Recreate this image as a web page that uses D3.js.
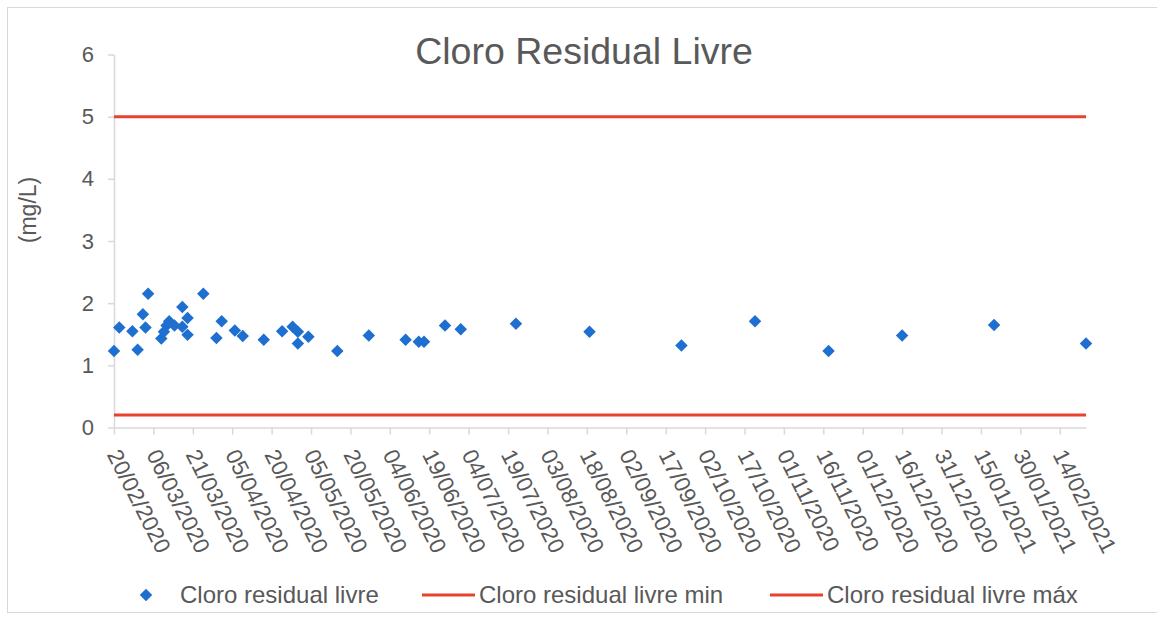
<!DOCTYPE html>
<html>
<head>
<meta charset="utf-8">
<script src="https://cdn.jsdelivr.net/npm/d3@7"></script>
<style>
  body { margin: 0; background: #fff; }
  svg { display: block; font-family: "Liberation Sans", Arial, sans-serif; }
</style>
</head>
<body>
<svg id="chart" width="1157" height="619"></svg>
<script>
// sample dates (dd/mm/yyyy) and free chlorine values
var sampleDates = [
    '20/02/2020', '22/02/2020', '27/02/2020', '29/02/2020', '02/03/2020',
    '03/03/2020', '04/03/2020', '09/03/2020', '10/03/2020', '11/03/2020',
    '12/03/2020', '14/03/2020', '17/03/2020', '17/03/2020', '19/03/2020',
    '19/03/2020', '25/03/2020', '30/03/2020', '01/04/2020', '06/04/2020',
    '09/04/2020', '17/04/2020', '24/04/2020', '28/04/2020', '30/04/2020',
    '30/04/2020', '04/05/2020', '15/05/2020', '27/05/2020', '10/06/2020',
    '15/06/2020', '17/06/2020', '25/06/2020', '01/07/2020', '22/07/2020',
    '19/08/2020', '23/09/2020', '21/10/2020', '18/11/2020', '16/12/2020',
    '20/01/2021', '24/02/2021'
];
var cloroValues = [
    1.23, 1.61, 1.55, 1.25, 1.82,
    1.61, 2.15, 1.43, 1.54, 1.64,
    1.71, 1.64, 1.62, 1.94, 1.76,
    1.49, 2.15, 1.44, 1.71, 1.56,
    1.47, 1.41, 1.55, 1.62, 1.54,
    1.35, 1.46, 1.23, 1.48, 1.41,
    1.38, 1.38, 1.64, 1.58, 1.67,
    1.54, 1.32, 1.71, 1.23, 1.48,
    1.65, 1.35
];
var limitMin = 0.2,
    limitMax = 5;
var yTicks = [0, 1, 2, 3, 4, 5, 6];
var xTickLabels = [
    '20/02/2020', '06/03/2020', '21/03/2020', '05/04/2020', '20/04/2020',
    '05/05/2020', '20/05/2020', '04/06/2020', '19/06/2020', '04/07/2020',
    '19/07/2020', '03/08/2020', '18/08/2020', '02/09/2020', '17/09/2020',
    '02/10/2020', '17/10/2020', '01/11/2020', '16/11/2020', '01/12/2020',
    '16/12/2020', '31/12/2020', '15/01/2021', '30/01/2021', '14/02/2021'
];
var legendItems = ['Cloro residual livre', 'Cloro residual livre min', 'Cloro residual livre máx'];

var parseDate = d3.utcParse('%d/%m/%Y'),
    fmtDate = d3.utcFormat('%d/%m/%Y'),
    textColor = '#595959',
    axisColor = '#d9d9d9',
    blue = '#1f6fd0',
    red = '#e8412c';

var points = sampleDates.map(function (d, i) {
    return { date: parseDate(d), value: cloroValues[i] };
});
var firstDate = points[0].date,
    lastDate = points[points.length - 1].date;

var svg = d3.select('#chart');

// chart area border (right edge falls outside the picture)
svg.append('rect')
    .attr('x', 7.5).attr('y', 7.5)
    .attr('width', 1170).attr('height', 605)
    .attr('fill', 'none')
    .attr('stroke', axisColor);

var x = d3.scaleUtc().domain([firstDate, lastDate]).range([114, 1086]),
    y = d3.scaleLinear().domain([0, 6]).range([427.5, 54.5]);

svg.append('text')
    .attr('x', 584).attr('y', 64)
    .attr('text-anchor', 'middle')
    .attr('font-size', 37.5)
    .attr('fill', textColor)
    .text('Cloro Residual Livre');

// y axis
var yAxis = svg.append('g')
    .attr('transform', 'translate(114,0)')
    .call(d3.axisLeft(y).tickValues(yTicks).tickFormat(d3.format('d'))
        .tickSize(6).tickPadding(14).tickSizeOuter(0));
yAxis.select('.domain').attr('stroke', axisColor).attr('stroke-width', 1.5);
yAxis.selectAll('.tick line').attr('stroke', axisColor).attr('stroke-width', 1.5);
yAxis.selectAll('.tick text')
    .attr('font-size', 22)
    .attr('fill', textColor)
    .attr('font-family', '"Liberation Sans", Arial, sans-serif');

svg.append('text')
    .attr('transform', 'translate(36,210) rotate(-90)')
    .attr('text-anchor', 'middle')
    .attr('font-size', 23)
    .attr('fill', textColor)
    .text('(mg/L)');

// x axis, a tick every 15 days
var xAxis = svg.append('g')
    .attr('transform', 'translate(0,' + y(0) + ')')
    .call(d3.axisBottom(x)
        .tickValues(xTickLabels.map(parseDate))
        .tickFormat(fmtDate)
        .tickSize(7)
        .tickSizeOuter(0));
xAxis.select('.domain').attr('stroke', axisColor).attr('stroke-width', 1.5);
xAxis.selectAll('.tick line').attr('stroke', axisColor).attr('stroke-width', 1.5);
xAxis.selectAll('.tick text')
    .attr('font-size', 22.5)
    .attr('fill', textColor)
    .attr('font-family', '"Liberation Sans", Arial, sans-serif')
    .attr('text-anchor', 'start')
    .attr('x', 0).attr('y', 0).attr('dy', 0)
    .attr('transform', 'translate(-8,27) rotate(63)');

// limit lines
var limitLine = d3.line()
    .x(function (d) { return x(d[0]); })
    .y(function (d) { return y(d[1]); });
[limitMin, limitMax].forEach(function (v) {
    svg.append('path')
        .datum([[firstDate, v], [lastDate, v]])
        .attr('d', limitLine)
        .attr('fill', 'none')
        .attr('stroke', red)
        .attr('stroke-width', 3);
});

// diamond markers
var diamond = d3.symbol().type(d3.symbolSquare).size(78);
svg.append('g').selectAll('path')
    .data(points)
    .enter().append('path')
    .attr('d', diamond)
    .attr('fill', blue)
    .attr('transform', function (d) {
        return 'translate(' + x(d.date) + ',' + y(d.value) + ') rotate(45)';
    });

// legend
var legend = svg.append('g').attr('font-size', 24).attr('fill', textColor);
var legendX = [180, 479, 827];
legend.append('path')
    .attr('d', diamond)
    .attr('fill', blue)
    .attr('transform', 'translate(146,595) rotate(45)');
[0, 1].forEach(function (i) {
    legend.append('line')
        .attr('x1', legendX[i + 1] - 57).attr('x2', legendX[i + 1] - 4)
        .attr('y1', 595).attr('y2', 595)
        .attr('stroke', red)
        .attr('stroke-width', 3);
});
legend.selectAll('text')
    .data(legendItems)
    .enter().append('text')
    .attr('x', function (d, i) { return legendX[i]; })
    .attr('y', 603)
    .text(function (d) { return d; });
</script>
</body>
</html>
